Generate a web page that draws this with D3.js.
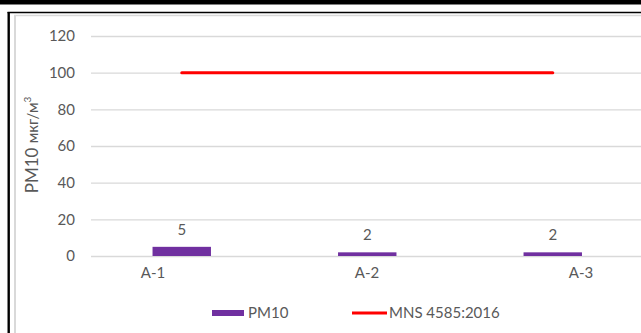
<!DOCTYPE html>
<html><head><meta charset="utf-8">
<script src="https://cdn.jsdelivr.net/npm/d3@7/dist/d3.min.js"></script>
<style>
html,body{margin:0;padding:0;background:#fff;}
svg{display:block;}
text{font-family:Lato,"Open Sans",sans-serif;fill:#595959;}
</style></head>
<body>
<svg id="c" width="641" height="333"></svg>
<script>
const categories = ["A-1", "A-2", "A-3"];
const pm10 = [5, 2, 2];
const standard = [100, 100, 100];
const yTicks = [0, 20, 40, 60, 80, 100, 120];
const seriesNames = ["PM10", "MNS 4585:2016"];

const W = 641, H = 333;
const svg = d3.select("#c");

// outer frame (black bar, black border, inner gray border)
svg.append("rect").attr("x", 0).attr("y", 0).attr("width", W).attr("height", 4.5).attr("fill", "#000");
svg.append("line").attr("x1", 7.5).attr("x2", W).attr("y1", 12.5).attr("y2", 12.5).attr("stroke", "#000").attr("stroke-width", 1.6);
svg.append("line").attr("x1", 8.7).attr("x2", 8.7).attr("y1", 12).attr("y2", H).attr("stroke", "#000").attr("stroke-width", 2.4);
svg.append("line").attr("x1", 14).attr("x2", W).attr("y1", 15.5).attr("y2", 15.5).attr("stroke", "#d9d9d9").attr("stroke-width", 1.5);
svg.append("line").attr("x1", 15).attr("x2", 15).attr("y1", 15).attr("y2", H).attr("stroke", "#d9d9d9").attr("stroke-width", 2);

const y = d3.scaleLinear().domain([0, 120]).range([256, 36]);
const x = d3.scaleBand().domain(categories).range([89, 645.5]).paddingInner(0.685).paddingOuter(0.3425);
const xl = d3.scalePoint().domain(categories).range([153, 581]);

// gridlines
const grid = d3.axisLeft(y).tickValues(yTicks).tickSize(-(W - 91)).tickFormat("");
svg.append("g").attr("transform", "translate(91,0)").call(grid)
  .call(g => g.select(".domain").remove())
  .call(g => g.selectAll("line").attr("stroke", "#d9d9d9").attr("stroke-width", 1.3));

// y tick labels
const yAxis = d3.axisLeft(y).tickValues(yTicks).tickSize(0).tickPadding(0);
svg.append("g").attr("transform", "translate(75,0)").call(yAxis)
  .call(g => g.select(".domain").remove())
  .call(g => g.selectAll("text").attr("font-size", 15).attr("fill", "#595959").attr("font-family", "Lato"));

// x labels
svg.append("g").selectAll("text").data(categories).join("text")
  .attr("x", d => xl(d)).attr("y", 278).attr("text-anchor", "middle")
  .attr("font-size", 15).text(d => d);

// bars
svg.append("g").selectAll("rect").data(pm10).join("rect")
  .attr("x", (d, i) => x(categories[i])).attr("width", x.bandwidth())
  .attr("y", d => y(d)).attr("height", d => y(0) - y(d))
  .attr("fill", "#7030a0");

// data labels
svg.append("g").selectAll("text").data(pm10).join("text")
  .attr("x", (d, i) => x(categories[i]) + x.bandwidth() / 2)
  .attr("y", d => y(d) - 12).attr("text-anchor", "middle")
  .attr("font-size", 15).text(d => d);

// standard line
const line = d3.line().x((d, i) => x(categories[i]) + x.bandwidth() / 2).y(d => y(d));
svg.append("path").datum(standard).attr("d", line)
  .attr("fill", "none").attr("stroke", "#ff0000").attr("stroke-width", 3).attr("stroke-linecap", "round");

// y axis title
const yt = svg.append("text").attr("transform", "translate(38,145) rotate(-90)")
  .attr("text-anchor", "middle").attr("font-size", 17);
yt.append("tspan").text("PM10 ");
yt.append("tspan").attr("font-size", 15).text("мкг/м");
yt.append("tspan").attr("font-size", 10).attr("dy", -7).text("3");

// legend
const lg = svg.append("g");
lg.append("rect").attr("x", 212).attr("y", 310).attr("width", 32).attr("height", 6).attr("fill", "#7030a0");
lg.append("text").attr("x", 248).attr("y", 318).attr("font-size", 15).text(seriesNames[0]);
lg.append("line").attr("x1", 352).attr("x2", 387).attr("y1", 313).attr("y2", 313).attr("stroke", "#ff0000").attr("stroke-width", 3);
lg.append("text").attr("x", 389).attr("y", 318).attr("font-size", 15).text(seriesNames[1]);
</script>
</body></html>
